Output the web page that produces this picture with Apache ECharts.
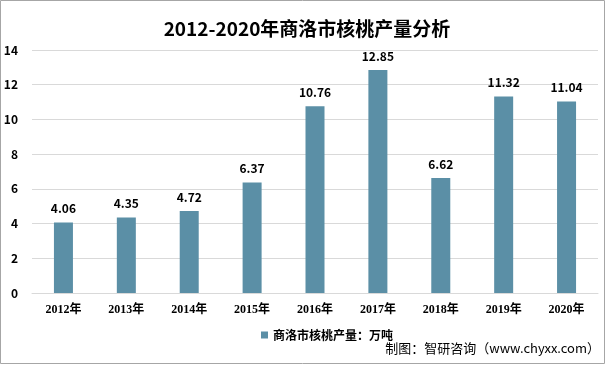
<!DOCTYPE html>
<html><head><meta charset="utf-8">
<script src="https://cdn.jsdelivr.net/npm/echarts@6/dist/echarts.min.js"></script>
<style>html,body{margin:0;padding:0;background:#fff}#c{width:606px;height:365px}</style>
</head><body><div id="c"></div>
<script>
const categories = ['2012年','2013年','2014年','2015年','2016年','2017年','2018年','2019年','2020年'];
const values = [4.06, 4.35, 4.72, 6.37, 10.76, 12.85, 6.62, 11.32, 11.04];
const yTicks = [0, 2, 4, 6, 8, 10, 12, 14];
const chart = echarts.init(document.getElementById('c'));
const font = '"Microsoft YaHei","Noto Sans CJK SC","Liberation Sans",sans-serif';
chart.setOption({
  animation: false,
  title: {text: '2012-2020年商洛市核桃产量分析', left: 302, top: 14, textAlign: 'center',
    textStyle: {fontSize: 19, fontWeight: 'bold', color: '#000', fontFamily: font}},
  legend: {data: ['商洛市核桃产量：万吨'], left: 256, top: 324, itemWidth: 7, itemHeight: 7, itemGap: 2,
    icon: 'rect', textStyle: {fontSize: 12, fontWeight: 'bold', color: '#000', fontFamily: font}},
  graphic: [
    {type: 'rect', shape: {x: 0.5, y: 0.5, width: 604, height: 363}, style: {fill: null, stroke: '#a6a6a6', lineWidth: 1}, silent: true},
    {type: 'text', right: 6, top: 342, style: {text: '制图：智研咨询（www.chyxx.com）', fontSize: 13, fill: '#000', fontFamily: font}}],
  grid: {left: 32, right: 8, top: 50, bottom: 72},
  xAxis: {type: 'category', data: categories,
    axisLine: {lineStyle: {color: '#d9d9d9'}}, axisTick: {show: false},
    axisLabel: {color: '#000', fontWeight: 'bold', fontSize: 12, margin: 11, fontFamily: '"Liberation Serif","Noto Sans CJK SC",serif'}},
  yAxis: {type: 'value', min: yTicks[0], max: yTicks[yTicks.length-1], interval: 2,
    axisLine: {show: false}, axisTick: {show: false},
    splitLine: {lineStyle: {color: '#d9d9d9'}},
    axisLabel: {color: '#000', fontWeight: 'bold', fontSize: 12, margin: 14, fontFamily: font}},
  series: [{name: '商洛市核桃产量：万吨', type: 'bar', data: values, barWidth: 19,
    itemStyle: {color: '#5b8fa6'},
    label: {show: true, position: 'top', color: '#000', fontSize: 12, fontWeight: 'bold', distance: 8, fontFamily: font}}]
});
</script></body></html>
